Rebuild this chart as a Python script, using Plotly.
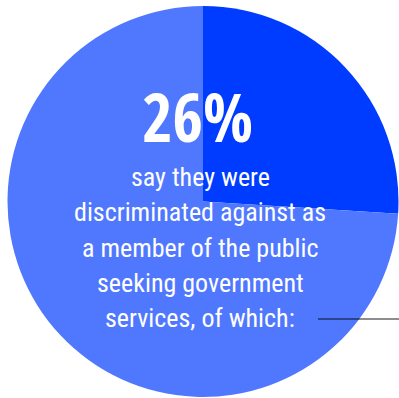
import plotly.graph_objects as go

labels = ["Discriminated against", "Other"]
values = [26, 74]
colors = ["#003cff", "#5078ff"]

headline = "26%"
body_lines = [
    "say they were",
    "discriminated against as",
    "a member of the public",
    "seeking government",
    "services, of which:",
]

W, H = 399, 398
BODY_FONT = "Roboto Condensed, DejaVu Sans Condensed, sans-serif"
HEAD_FONT = "Open Sans Condensed, Roboto Condensed, sans-serif"

# pie geometry (pixels)
cx, cy, r = 203, 201.5, 195.5

fig = go.Figure(go.Pie(
    labels=labels,
    values=values,
    marker=dict(colors=colors, line=dict(width=0)),
    sort=False,
    direction="clockwise",
    rotation=0,
    textinfo="none",
    hoverinfo="label+percent",
    showlegend=False,
    domain=dict(x=[(cx - r) / W, (cx + r) / W],
                y=[(H - cy - r) / H, (H - cy + r) / H]),
))

annotations = [dict(
    text="<b>" + headline + "</b>", x=197.5 / W, y=1 - 116 / H,
    xref="paper", yref="paper", xanchor="center", yanchor="middle",
    showarrow=False, font=dict(family=HEAD_FONT, size=66, color="white"),
)]
y0, dy = 177, 35.3
for i, line in enumerate(body_lines):
    annotations.append(dict(
        text=line, x=200 / W, y=1 - (y0 + i * dy) / H,
        xref="paper", yref="paper", xanchor="center", yanchor="middle",
        showarrow=False, font=dict(family=BODY_FONT, size=26, color="white"),
    ))

fig.update_layout(
    width=W, height=H,
    margin=dict(l=0, r=0, t=0, b=0),
    paper_bgcolor="white", plot_bgcolor="white",
    annotations=annotations,
    shapes=[dict(type="line", xref="paper", yref="paper",
                 x0=318 / W, x1=1, y0=1 - 319 / H, y1=1 - 319 / H,
                 line=dict(color="rgba(0,0,0,0.6)", width=1.5))],
)

fig.write_html("out.html")
